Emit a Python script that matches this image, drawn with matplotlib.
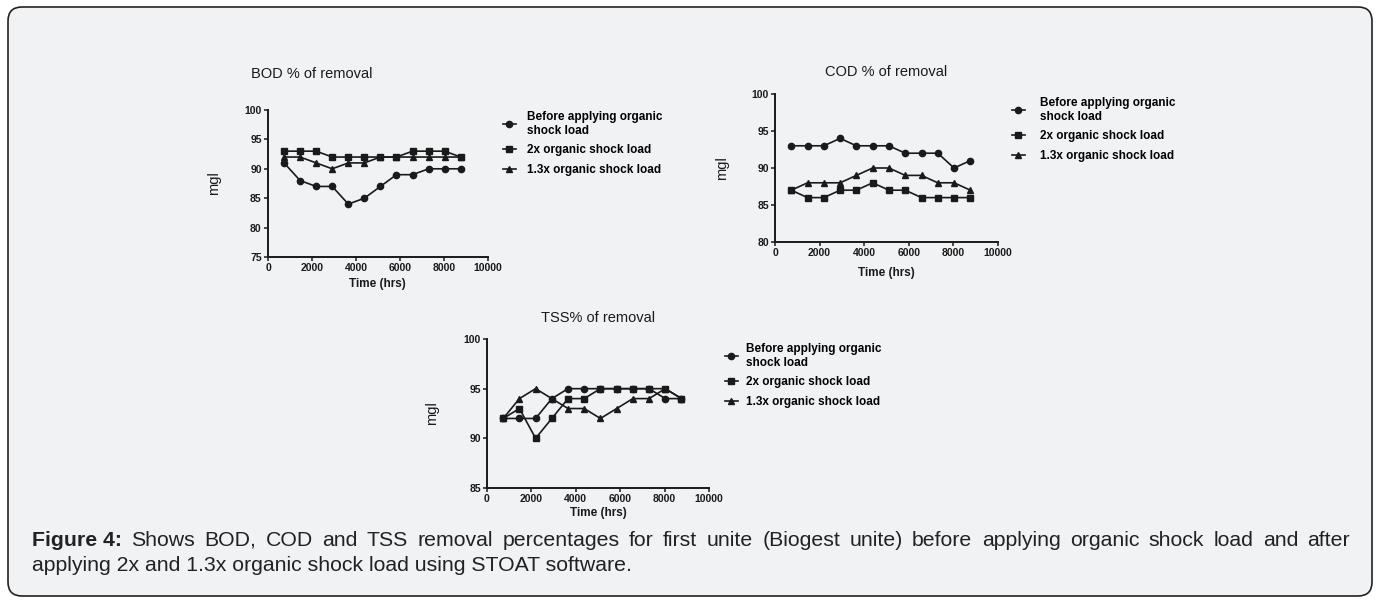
import matplotlib
matplotlib.use('Agg')
import matplotlib.pyplot as plt
from matplotlib.patches import FancyBboxPatch

plt.rcParams['font.family'] = ['Liberation Sans', 'DejaVu Sans']

W, H = 1380, 601

# sampling times (hrs) and % removal
time_hrs = [730, 1460, 2190, 2920, 3650, 4380, 5110, 5840, 6570, 7300, 8030, 8760]

bod_before = [91, 88, 87, 87, 84, 85, 87, 89, 89, 90, 90, 90]
bod_2x = [93, 93, 93, 92, 92, 92, 92, 92, 93, 93, 93, 92]
bod_13x = [92, 92, 91, 90, 91, 91, 92, 92, 92, 92, 92, 92]

cod_before = [93, 93, 93, 94, 93, 93, 93, 92, 92, 92, 90, 91]
cod_2x = [87, 86, 86, 87, 87, 88, 87, 87, 86, 86, 86, 86]
cod_13x = [87, 88, 88, 88, 89, 90, 90, 89, 89, 88, 88, 87]

tss_before = [92, 92, 92, 94, 95, 95, 95, 95, 95, 95, 94, 94]
tss_2x = [92, 93, 90, 92, 94, 94, 95, 95, 95, 95, 95, 94]
tss_13x = [92, 94, 95, 94, 93, 93, 92, 93, 94, 94, 95, 94]

series_labels = ['Before applying organic\nshock load', '2x organic shock load',
                 '1.3x organic shock load']
x_ticks = [0, 2000, 4000, 6000, 8000, 10000]

caption_line1 = ('Shows BOD, COD and TSS removal percentages for first unite (Biogest unite) '
                 'before applying organic shock load and after')
caption_line2 = 'applying 2x and 1.3x organic shock load using STOAT software.'

markers = ['o', 's', '^']
msizes = [4.5, 5.0, 5.0]
INK = '#1a1a1a'

fig = plt.figure(figsize=(W / 100, H / 100), dpi=100, facecolor='white')

bg = fig.add_axes([0, 0, 1, 1], zorder=-5)
bg.set_xlim(0, W)
bg.set_ylim(H, 0)
bg.axis('off')
bg.add_patch(FancyBboxPatch((8, 7), W - 16, H - 12, boxstyle='round,pad=0,rounding_size=14',
                            fc='#f1f2f4', ec='#222222', lw=1.2))


def px_axes(left, top, right, bottom):
    return fig.add_axes([left / W, 1 - bottom / H, (right - left) / W, (bottom - top) / H])


def panel(box, series, ylim, title, title_xy, ylab_xy, xlab_xy, leg_xy, leg_pad):
    ax = px_axes(*box)
    ax.set_facecolor('none')
    for y, m, ms, lab in zip(series, markers, msizes, series_labels):
        ax.plot(time_hrs, y, marker=m, ms=ms, color=INK, lw=1.2, label=lab, clip_on=False)
    ax.set_xlim(0, 10000)
    ax.set_ylim(*ylim)
    ax.set_xticks(x_ticks)
    ax.set_yticks(range(ylim[0], ylim[1] + 1, 5))
    for s in ['top', 'right']:
        ax.spines[s].set_visible(False)
    for s in ['left', 'bottom']:
        ax.spines[s].set_linewidth(1.4)
        ax.spines[s].set_color(INK)
    ax.tick_params(length=3, width=1.1, labelsize=7.5, pad=1.5, colors=INK)
    for t in ax.get_xticklabels() + ax.get_yticklabels():
        t.set_fontweight('bold')
    fig.text(title_xy[0] / W, 1 - title_xy[1] / H, title, ha='center', va='center',
             fontsize=10.5, color=INK)
    fig.text(ylab_xy[0] / W, 1 - ylab_xy[1] / H, 'mgl', ha='center', va='center',
             rotation=90, fontsize=10.5, color=INK)
    fig.text(xlab_xy[0] / W, 1 - xlab_xy[1] / H, 'Time (hrs)', ha='center', va='center',
             fontsize=8.5, fontweight='bold', color=INK)
    ax.legend(loc='upper left', bbox_to_anchor=(leg_xy[0] / W, 1 - leg_xy[1] / H),
              bbox_transform=fig.transFigure, frameon=False, borderpad=0, borderaxespad=0,
              handlelength=1.1, handletextpad=leg_pad, labelspacing=0.65,
              prop={'size': 8.5, 'weight': 'bold'})
    return ax


panel((268, 110, 488, 257), [bod_before, bod_2x, bod_13x], (75, 100), 'BOD % of removal',
      (312, 74), (214, 183), (377, 284), (503, 111), 0.9)
panel((775, 94, 998, 242), [cod_before, cod_2x, cod_13x], (80, 100), 'COD % of removal',
      (886, 72), (722, 168), (886, 273), (1012, 97), 1.3)
panel((487, 339, 709, 488), [tss_before, tss_2x, tss_13x], (85, 100), 'TSS% of removal',
      (598, 318), (432, 413), (598, 513), (725, 343), 0.7)

# caption: first line justified between the margins, second line left aligned
cap_size = 15.3
left_x, right_x = 32, 1350
y1, y2 = 546, 571
words = [('Figure 4:', 'bold')] + [(w, 'normal') for w in caption_line1.split()]
texts = [bg.text(0, y1, w, fontsize=cap_size, fontweight=wt, color='#222222',
                 ha='left', va='baseline') for w, wt in words]
fig.canvas.draw()
renderer = fig.canvas.get_renderer()
widths = [t.get_window_extent(renderer).width for t in texts]
gap = (right_x - left_x - sum(widths)) / (len(texts) - 1)
x = left_x
for t, w in zip(texts, widths):
    t.set_x(x)
    x += w + gap
bg.text(left_x, y2, caption_line2, fontsize=cap_size, color='#222222', ha='left', va='baseline')

fig.savefig('out.png', dpi=100, facecolor=fig.get_facecolor())
